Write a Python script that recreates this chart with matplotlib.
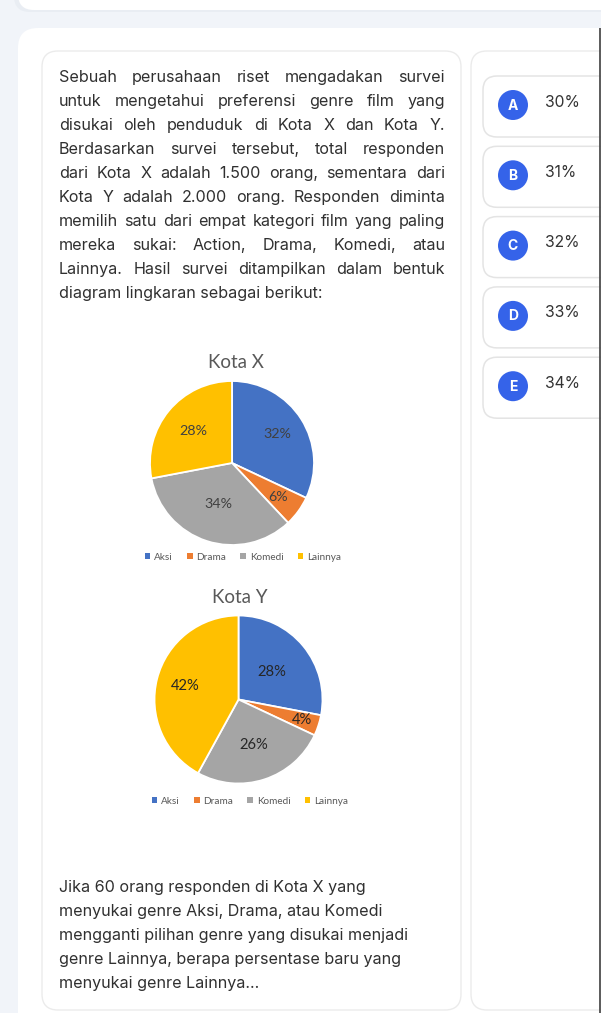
import matplotlib
matplotlib.use("Agg")
import matplotlib.pyplot as plt
from matplotlib.patches import FancyBboxPatch, Circle, Rectangle
import numpy as np

# ---------------- data ----------------
categories = ["Aksi", "Drama", "Komedi", "Lainnya"]
kota_x_values = [32, 6, 34, 28]
kota_y_values = [28, 4, 26, 42]
pie_colors = ["#4472C4", "#ED7D31", "#A5A5A5", "#FFC000"]

option_letters = ["A", "B", "C", "D", "E"]
option_texts = ["30%", "31%", "32%", "33%", "34%"]

paragraph_lines = [
    "Sebuah perusahaan riset mengadakan survei",
    "untuk mengetahui preferensi genre film yang",
    "disukai oleh penduduk di Kota X dan Kota Y.",
    "Berdasarkan survei tersebut, total responden",
    "dari Kota X adalah 1.500 orang, sementara dari",
    "Kota Y adalah 2.000 orang. Responden diminta",
    "memilih satu dari empat kategori film yang paling",
    "mereka sukai: Action, Drama, Komedi, atau",
    "Lainnya. Hasil survei ditampilkan dalam bentuk",
    "diagram lingkaran sebagai berikut:",
]
question_lines = [
    "Jika 60 orang responden di Kota X yang",
    "menyukai genre Aksi, Drama, atau Komedi",
    "mengganti pilihan genre yang disukai menjadi",
    "genre Lainnya, berapa persentase baru yang",
    "menyukai genre Lainnya...",
]

# ---------------- figure ----------------
W, H = 601, 1013
fig = plt.figure(figsize=(W / 100, H / 100), dpi=100)
fig.patch.set_facecolor("#f1f4f9")
ax = fig.add_axes([0, 0, 1, 1])
ax.set_xlim(0, W)
ax.set_ylim(H, 0)
ax.axis("off")

def rbox(x0, y0, x1, y1, r, fc="white", ec="none", lw=1.0, z=1):
    p = FancyBboxPatch((x0, y0), x1 - x0, y1 - y0,
                       boxstyle=f"round,pad=0,rounding_size={r}",
                       fc=fc, ec=ec, lw=lw, zorder=z)
    ax.add_patch(p)

# top card remnants + shadow
rbox(14, -40, 680, 12, 16, fc="#e9edf3", z=0.5)
rbox(18, -40, 680, 10, 16, fc="white", z=0.6)
# main card
rbox(18, 28, 700, 1100, 20, fc="white", z=0.7)
# left card
rbox(42, 51, 461, 1010, 16, fc="white", ec="#ebebeb", lw=1.0, z=1)
# right card
rbox(471, 51, 700, 1010, 16, fc="white", ec="#ebebeb", lw=1.0, z=1)
# option boxes
for i, (letter, txt) in enumerate(zip(option_letters, option_texts)):
    top = 76 + 70.3 * i
    rbox(483, top, 700, top + 61, 14, fc="white", ec="#e4e4e4", lw=1.1, z=2)
    cy = top + 29
    ax.add_patch(Circle((513, cy), 15, fc="#3563e9", ec="none", zorder=3))
    ax.text(513, cy + 0.5, letter, color="white", fontsize=10, fontweight="bold",
            family="Inter", ha="center", va="center", zorder=4)
    ax.text(545, cy - 3, txt, color="#333333", fontsize=11.3, family="Inter",
            ha="left", va="center", zorder=4)
# dark edge line on the right
ax.plot([600, 600], [28, H], color="#4d4d4d", lw=1.3, zorder=5, solid_capstyle="butt")

# ---------------- texts ----------------
FS = 11.6
TXT_COLOR = "#303030"
renderer = fig.canvas.get_renderer()

def word_width(s):
    t = ax.text(0, 0, s, fontsize=FS, family="Inter")
    w = t.get_window_extent(renderer).width
    t.remove()
    return w

x_left, x_right = 59, 445
for i, line in enumerate(paragraph_lines):
    y = 77 + 24 * i
    if i == len(paragraph_lines) - 1:
        ax.text(x_left, y, line, fontsize=FS, family="Inter", color=TXT_COLOR,
                ha="left", va="center", zorder=4)
        continue
    words = line.split()
    widths = [word_width(w) for w in words]
    gap = (x_right - x_left - sum(widths)) / (len(words) - 1)
    x = x_left
    for w, wd in zip(words, widths):
        ax.text(x, y, w, fontsize=FS, family="Inter", color=TXT_COLOR,
                ha="left", va="center", zorder=4)
        x += wd + gap

for i, line in enumerate(question_lines):
    y = 887 + 24 * i
    ax.text(59, y, line, fontsize=FS, family="Inter", color=TXT_COLOR,
            ha="left", va="center", zorder=4)

# ---------------- pies ----------------
def draw_pie(values, cx, cy, r, title, title_xy, legend_xy, label_dist, label_color, label_fs):
    m = 1.03
    pax = fig.add_axes([(cx - r * m) / W, 1 - (cy + r * m) / H, 2 * r * m / W, 2 * r * m / H])
    wedges, _ = pax.pie(values, colors=pie_colors, startangle=90, counterclock=False,
                        wedgeprops=dict(edgecolor="white", linewidth=1.3))
    pax.set_xlim(-m, m)
    pax.set_ylim(-m, m)
    pax.set_aspect("equal")
    pax.axis("off")
    for w, v, d in zip(wedges, values, label_dist):
        th = np.deg2rad((w.theta1 + w.theta2) / 2)
        pax.text(d * np.cos(th), d * np.sin(th), f"{v}%", ha="center", va="center",
                 fontsize=label_fs, family="Lato", color=label_color)
    ax.text(title_xy[0], title_xy[1], title, ha="center", va="center", fontsize=13.5,
            family="Lato", color="#595959", zorder=4)
    handles = [Rectangle((0, 0), 1, 1, fc=c, ec="none") for c in pie_colors]
    fig.legend(handles=handles, labels=categories, loc="center",
               bbox_to_anchor=(legend_xy[0] / W, 1 - legend_xy[1] / H),
               ncol=4, frameon=False, handlelength=0.55, handleheight=0.55,
               handletextpad=0.4, columnspacing=1.4, borderpad=0,
               prop=dict(family="Lato", size=7.2), labelcolor="#595959")

draw_pie(kota_x_values, 232, 463, 82, "Kota X", (236, 362), (243, 557),
         [0.66, 0.70, 0.53, 0.62], "#404040", 10.3)
draw_pie(kota_y_values, 238.5, 699.5, 84, "Kota Y", (240, 597), (250, 801),
         [0.52, 0.80, 0.57, 0.65], "#262626", 10.6)

fig.savefig("out.png", dpi=100, facecolor=fig.get_facecolor())
